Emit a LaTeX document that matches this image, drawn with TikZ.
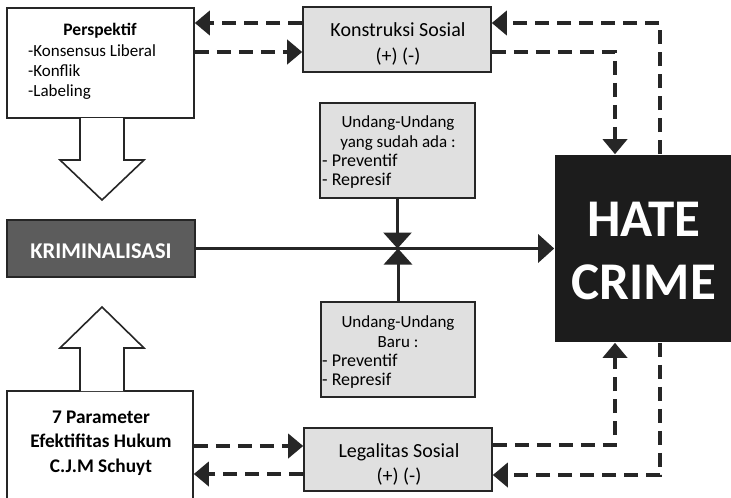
\documentclass[tikz,border=0pt]{standalone}
\usepackage{fontspec}
\setmainfont{Carlito}
\usetikzlibrary{arrows.meta,positioning}
\definecolor{linecol}{HTML}{262626}
\definecolor{boxgrey}{HTML}{E0E0E0}
\definecolor{krimgrey}{HTML}{5C5C5C}
\definecolor{hatecol}{HTML}{1C1C1C}

\begin{document}
\begin{tikzpicture}[x=1pt,y=-1pt,
    txt/.style={inner sep=0pt,font=\fontsize{17}{20}\selectfont},
    listtxt/.style={txt,anchor=west,align=left,font=\fontsize{18}{18.5}\selectfont},
    box/.style={draw=linecol,line width=1.6pt,inner sep=0pt,align=center,
                font=\fontsize{17}{25}\selectfont},
    greybox/.style={box,fill=boxgrey},
    dashline/.style={draw=linecol,line width=4pt,dash pattern=on 14pt off 8pt,
                     -{Triangle[width=24pt,length=15pt]}},
    mainline/.style={draw=linecol,line width=3pt,
                     -{Triangle[width=28pt,length=16pt]}},
    bigarrow/.style={draw=linecol,line width=1.6pt,fill=white,line join=miter}]
  \clip (0,0) rectangle (731,498);
  \fill[white] (0,0) rectangle (731,498);

  % left column
  \node[box,minimum width=187pt,minimum height=110pt] (persp) at (100.5,63) {};
  \node[txt,font=\bfseries\fontsize{17.5}{20}\selectfont] (persptitle) at (100,31) {Perspektif};
  \node[txt,anchor=west,align=left] (persplist) at (28,72) {-Konsensus Liberal\\-Konflik\\-Labeling};
  \node[box,fill=krimgrey,minimum width=188pt,minimum height=57pt] (krim) at (101,248.5) {};
  \node[txt,text=white,font=\bfseries\fontsize{22.5}{26}\selectfont] (krimtext) at (101,251) {KRIMINALISASI};
  \node[box,minimum width=186pt,minimum height=116pt] (param) at (100,449) {};
  \node[txt,align=center,font=\bfseries\fontsize{19.3}{24.5}\selectfont] (paramtext) at (101,443)
       {7 Parameter\\Efektifitas Hukum\\C.J.M Schuyt};

  % middle column
  \node[greybox,minimum width=188pt,minimum height=65pt] (konstruksi) at (397,39.5) {};
  \node[txt,align=center,font=\fontsize{20}{26}\selectfont] (konstruksitext) at (398,44) {Konstruksi Sosial\\(+) (-)};
  \node[greybox,minimum width=155pt,minimum height=95pt] (uuada) at (397.5,150.5) {};
  \node[txt,align=center,font=\fontsize{17}{20}\selectfont] (uuadatitle) at (398,133) {Undang-Undang\\yang sudah ada :};
  \node[listtxt] (uuadalist) at (322,171) {- Preventif\\- Represif};
  \node[greybox,minimum width=154pt,minimum height=95pt] (uubaru) at (398,349.5) {};
  \node[txt,align=center,font=\fontsize{17}{20}\selectfont] (uubarutitle) at (398,332) {Undang-Undang\\Baru :};
  \node[listtxt] (uubarulist) at (322,371) {- Preventif\\- Represif};
  \node[greybox,minimum width=188pt,minimum height=63pt] (legal) at (398,459.5) {};
  \node[txt,align=center,font=\fontsize{20}{25}\selectfont] (legaltext) at (399,464.5) {Legalitas Sosial\\(+) (-)};

  % right
  \node[box,draw=none,fill=hatecol,minimum width=176pt,minimum height=187pt] (hate) at (643,248.5) {};
  \node[txt,align=center,text=white,font=\bfseries\fontsize{53}{63}\selectfont] (hatetext) at (644,251) {HATE\\CRIME};

  % block arrows
  \draw[bigarrow] (80,118) -- (80,160) -- (60,160) -- (102,200) -- (144,160) -- (124,160) -- (124,118);
  \draw[bigarrow] (80,391) -- (80,348) -- (60,348) -- (102,307) -- (144,348) -- (124,348) -- (124,391);

  % solid connectors
  \draw[mainline] (krim.east) -- (krim.east -| hate.west);
  \draw[mainline] (uuada.south) -- (uuada.south |- krim.east);
  \draw[mainline] (uubaru.north) -- (uubaru.north |- krim.east);

  % dashed connectors
  \draw[dashline] ([yshift=16.5pt]konstruksi.west) -- ([yshift=40pt]persp.east);
  \draw[dashline] ([yshift=11pt]persp.east) -- ([yshift=-12.5pt]konstruksi.west);
  \draw[dashline] ([xshift=17pt]hate.north) |- ([yshift=16.5pt]konstruksi.east);
  \draw[dashline] ([yshift=-12.5pt]konstruksi.east) -| ([xshift=-28pt]hate.north);
  \draw[dashline] ([yshift=14.5pt]legal.east) -| ([xshift=-28pt]hate.south);
  \draw[dashline] ([xshift=17pt]hate.south) |- ([yshift=-15.5pt]legal.east);
  \coordinate (p1) at ([yshift=3pt]param.east);
  \coordinate (p2) at ([yshift=-14.5pt]legal.west);
  \draw[dashline] (p1) -- (p1 -| legal.west);
  \draw[dashline] (p2) -- (p2 -| param.east);
\end{tikzpicture}
\end{document}
